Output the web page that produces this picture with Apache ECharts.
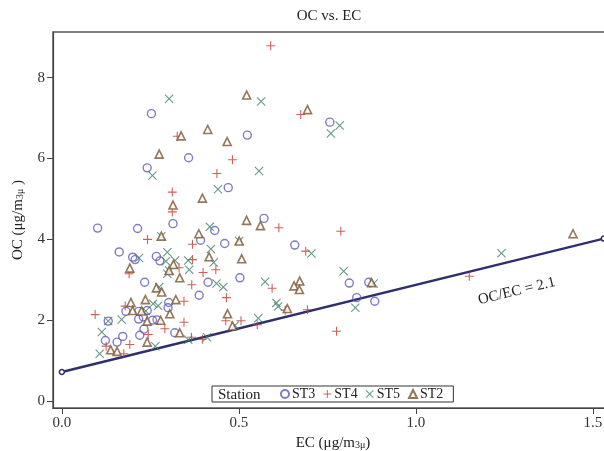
<!DOCTYPE html>
<html>
<head>
<meta charset="utf-8">
<script src="https://cdn.jsdelivr.net/npm/echarts@6/dist/echarts.min.js"></script>
<style>
  html, body { margin: 0; padding: 0; background: #fff; }
  #chart { width: 604px; height: 451px; }
</style>
</head>
<body>
<div id="chart"></div>
<script>
// OC vs EC scatter, four stations + OC/EC reference line
const xTicks = [0, 0.5, 1.0, 1.5];
const yTicks = [0, 2, 4, 6, 8];

// [EC, OC]
const st3 = [[0.253,7.11],[0.358,6.02],[0.241,5.77],[0.47,5.28],[0.314,4.39],[0.101,4.28],[0.214,4.27],[0.432,4.22],[0.757,6.90],[0.524,6.58],[0.571,4.52],[0.658,3.86],[0.503,3.05],[0.812,2.92],[0.867,2.94],[0.833,2.56],[0.884,2.47],[0.392,3.98],[0.460,3.90],[0.162,3.69],[0.200,3.56],[0.207,3.50],[0.267,3.58],[0.277,3.47],[0.413,2.94],[0.388,2.62],[0.234,2.94],[0.302,2.44],[0.300,2.31],[0.181,2.22],[0.217,2.22],[0.241,2.24],[0.217,2.03],[0.230,2.08],[0.256,2.00],[0.269,2.01],[0.131,1.98],[0.232,1.78],[0.220,1.63],[0.319,1.69],[0.123,1.50],[0.156,1.46],[0.172,1.60]];
const st4 = [[0.326,6.55],[0.482,5.97],[0.438,5.63],[0.312,5.17],[0.312,4.68],[0.590,8.79],[0.675,7.09],[0.613,4.29],[0.788,4.20],[1.151,3.09],[0.689,3.71],[0.594,2.79],[0.631,2.25],[0.694,2.26],[0.776,1.73],[0.552,1.89],[0.506,1.99],[0.242,4.00],[0.369,3.88],[0.369,3.50],[0.190,3.15],[0.331,3.30],[0.399,3.18],[0.435,3.25],[0.367,2.88],[0.465,2.56],[0.179,2.35],[0.345,2.47],[0.094,2.14],[0.244,1.65],[0.291,1.79],[0.345,1.95],[0.125,1.36],[0.192,1.40],[0.175,1.17],[0.366,1.58],[0.397,1.53],[0.463,1.99]];
const st5 = [[0.303,7.48],[0.256,5.58],[0.441,5.24],[0.418,4.31],[0.563,7.41],[0.785,6.82],[0.760,6.62],[0.557,5.69],[1.242,3.66],[0.705,3.65],[0.796,3.21],[0.574,2.95],[0.881,2.91],[0.829,2.31],[0.606,2.43],[0.611,2.34],[0.555,2.05],[0.489,1.87],[0.281,4.08],[0.218,3.54],[0.298,3.68],[0.294,3.46],[0.320,3.48],[0.357,3.48],[0.360,3.25],[0.303,3.23],[0.298,3.15],[0.429,3.43],[0.421,3.76],[0.437,2.91],[0.456,2.82],[0.275,2.82],[0.258,2.41],[0.272,2.36],[0.237,2.23],[0.131,1.98],[0.169,2.02],[0.113,1.71],[0.264,1.36],[0.107,1.17],[0.357,1.52],[0.410,1.58],[0.501,3.96]];
const st2 = [[0.337,6.56],[0.412,6.72],[0.467,6.42],[0.275,6.11],[0.397,5.02],[0.314,4.85],[0.522,7.57],[0.694,7.21],[0.522,4.47],[0.561,4.34],[1.444,4.14],[0.501,3.96],[0.508,3.52],[0.672,2.97],[0.656,2.85],[0.671,2.76],[0.875,2.93],[0.637,2.29],[0.482,1.86],[0.281,4.08],[0.387,4.14],[0.315,3.38],[0.192,3.29],[0.303,3.23],[0.333,3.05],[0.416,3.57],[0.267,2.80],[0.282,2.70],[0.195,2.44],[0.236,2.51],[0.322,2.51],[0.305,2.16],[0.200,2.24],[0.225,2.23],[0.241,1.98],[0.279,2.00],[0.333,1.69],[0.241,1.46],[0.138,1.27],[0.156,1.23],[0.468,2.16]];
const ratioLine = [[0, 0.72], [1.531, 4.02]];

const serif = '"Liberation Serif", "DejaVu Serif", serif';
const plusPath = 'path://M4.4,0 L5.6,0 L5.6,4.4 L10,4.4 L10,5.6 L5.6,5.6 L5.6,10 L4.4,10 L4.4,5.6 L0,5.6 L0,4.4 L4.4,4.4 Z';
const crossPath = 'path://M0,0.85 L0.85,0 L5,4.15 L9.15,0 L10,0.85 L5.85,5 L10,9.15 L9.15,10 L5,5.85 L0.85,10 L0,9.15 L4.15,5 Z';

const chart = echarts.init(document.getElementById('chart'));

function scatter(name, data, symbol, size, style) {
  return {
    name: name, type: 'scatter', data: data,
    symbol: symbol, symbolSize: size,
    itemStyle: style, z: 3
  };
}

const nameRich = {
  n: { fontFamily: serif, fontSize: 15, color: '#222' },
  s: { fontFamily: serif, fontSize: 10, color: '#222', padding: [4, 0, 0, 0] }
};

chart.setOption({
  animation: false,
  backgroundColor: '#fff',
  // plot runs past the right edge of the picture, as in the original crop
  grid: { left: 53, top: 32, width: 560, bottom: 43, outerBoundsMode: 'none',
          show: true, borderColor: '#555', borderWidth: 1.5 },
  xAxis: {
    type: 'value', min: -0.025, max: 1.557,
    name: '{n|EC (μg/m}{s|3μ}{n|)}',
    nameLocation: 'middle', nameGap: 26,
    nameTextStyle: { rich: nameRich },
    axisLine: { onZero: false, lineStyle: { color: '#444', width: 1.2 } },
    axisTick: { customValues: xTicks, length: 6, lineStyle: { color: '#444' } },
    axisLabel: { customValues: xTicks, formatter: v => v.toFixed(1), fontFamily: serif, fontSize: 15, color: '#333', margin: 8 },
    splitLine: { show: false }
  },
  yAxis: {
    type: 'value', min: -0.17, max: 9.13,
    name: '{n|OC (μg/m}{s|3μ}{n| )}',
    nameLocation: 'middle', nameGap: 27,
    nameTextStyle: { rich: nameRich },
    axisLine: { show: true, onZero: false, lineStyle: { color: '#444', width: 1.2 } },
    axisTick: { show: true, customValues: yTicks, length: 6, lineStyle: { color: '#444' } },
    axisLabel: { customValues: yTicks, fontFamily: serif, fontSize: 15, color: '#333', margin: 8 },
    splitLine: { show: false }
  },
  legend: {
    left: 212, top: 386, z: 20,
    padding: [1, 10, 1, 68],
    backgroundColor: '#fff',
    borderColor: '#333', borderWidth: 1,
    itemGap: 8, itemWidth: 8, itemHeight: 8,
    textStyle: { fontFamily: serif, fontSize: 14, color: '#222', padding: [2, 0, 0, -2] },
    data: ['ST3', 'ST4', 'ST5', 'ST2']
  },
  series: [
    {
      name: 'ratio', type: 'line', data: ratioLine,
      symbol: 'circle', symbolSize: 5, showSymbol: true,
      lineStyle: { color: '#2f2f70', width: 2.5 },
      itemStyle: { color: '#fff', borderColor: '#2f2f70', borderWidth: 1.5 },
      z: 2
    },
    scatter('ST3', st3, 'circle', 8, { color: 'rgba(0,0,0,0)', borderColor: '#5f5ab8', borderWidth: 1.4 }),
    scatter('ST4', st4, plusPath, 9, { color: '#c0392f' }),
    scatter('ST5', st5, crossPath, 9, { color: '#3d7f6a' }),
    scatter('ST2', st2, 'triangle', 8, { color: '#fff', borderColor: '#7a5530', borderWidth: 1.6 })
  ]
});

const lab = chart.convertToPixel({ gridIndex: 0 }, [1.285, 2.72]);
chart.setOption({
  graphic: [
    { type: 'text', x: 329, y: 9, style: { text: 'OC vs. EC', font: '15px ' + serif, fill: '#222', textAlign: 'center' } },
    { type: 'text', x: 218, y: 388, z: 100, style: { text: 'Station', font: '15px ' + serif, fill: '#222' } },
    { type: 'text', x: lab[0], y: lab[1], rotation: 13.5 * Math.PI / 180, z: 100,
      style: { text: 'OC/EC = 2.1', font: '15px ' + serif, fill: '#222', textAlign: 'center', textVerticalAlign: 'middle' } }
  ]
});
</script>
</body>
</html>
